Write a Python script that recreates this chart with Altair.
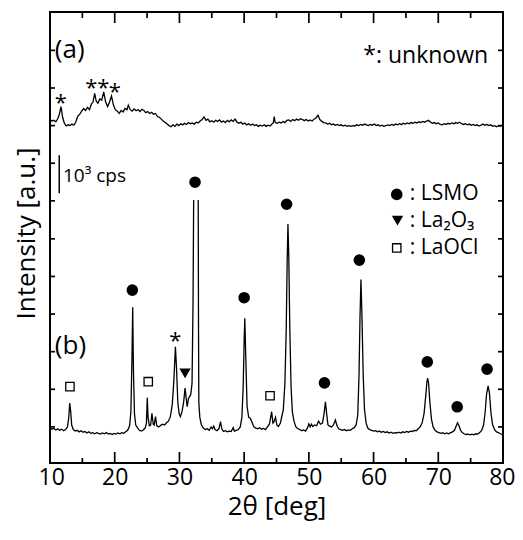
import altair as alt
import pandas as pd

# ---------------- data ----------------
# trace (a)
a_x = [10.0, 10.3, 10.6, 10.9, 11.2, 11.45, 11.7, 11.95, 12.2, 12.5, 12.8, 13.1, 13.4, 13.7, 14.0, 14.3, 14.6, 14.9,
       15.2, 15.5, 15.8, 16.1, 16.4, 16.65, 16.9, 17.15, 17.4, 17.7, 18.0, 18.3, 18.6, 18.9, 19.2, 19.5, 19.8, 20.1,
       20.4, 20.7, 21.0, 21.3, 21.6, 21.9, 22.1, 22.4, 22.7, 23.0, 23.3, 23.6, 23.9, 24.2, 24.5, 24.8, 25.1, 25.4,
       25.7, 26.0, 26.3, 26.6, 26.9, 27.2, 27.5, 27.8, 28.1, 28.4, 28.7, 29.0, 29.3, 29.6, 29.9, 30.2, 30.5, 30.8,
       31.1, 31.4, 31.7, 32.0, 32.3, 32.6, 32.9, 33.2, 33.5, 33.8, 34.1, 34.4, 34.7, 35.0, 35.3, 35.6, 35.9, 36.2,
       36.5, 36.8, 37.1, 37.4, 37.7, 38.0, 38.3, 38.6, 38.9, 39.2, 39.5, 39.8, 40.1, 40.4, 40.7, 41.0, 41.3, 41.6,
       41.9, 42.2, 42.5, 42.8, 43.1, 43.4, 43.7, 44.0, 44.3, 44.5, 44.65, 44.8, 45.1, 45.4, 45.7, 46.0, 46.3, 46.6,
       46.9, 47.2, 47.5, 47.8, 48.1, 48.4, 48.7, 49.0, 49.3, 49.6, 49.9, 50.2, 50.5, 50.8, 51.1, 51.4, 51.7, 52.0,
       52.3, 52.6, 52.9, 53.2, 53.5, 53.8, 54.1, 54.4, 54.7, 55.0, 55.3, 55.6, 55.9, 56.2, 56.5, 56.8, 57.1, 57.4,
       57.7, 58.0, 58.3, 58.6, 58.9, 59.2, 59.5, 59.8, 60.1, 60.4, 60.7, 61.0, 61.3, 61.6, 61.9, 62.2, 62.5, 62.8,
       63.1, 63.4, 63.7, 64.0, 64.3, 64.6, 64.9, 65.2, 65.5, 65.8, 66.1, 66.4, 66.7, 67.0, 67.3, 67.6, 67.9, 68.2,
       68.5, 68.8, 69.1, 69.4, 69.7, 70.0, 70.3, 70.6, 70.9, 71.2, 71.5, 71.8, 72.1, 72.4, 72.7, 73.0, 73.3, 73.6,
       73.9, 74.2, 74.5, 74.8, 75.1, 75.4, 75.7, 76.0, 76.3, 76.6, 76.9, 77.2, 77.5, 77.8, 78.1, 78.4, 78.7, 79.0,
       79.3, 79.6, 80.0]
a_y = [9.04, 9.00, 9.02, 8.98, 9.06, 9.18, 9.38, 9.10, 8.95, 8.87, 8.90, 8.88, 8.92, 8.89, 8.98, 9.13, 9.18, 9.26,
       9.33, 9.28, 9.36, 9.30, 9.45, 9.50, 9.73, 9.52, 9.47, 9.58, 9.55, 9.77, 9.50, 9.38, 9.50, 9.66, 9.42, 9.30,
       9.26, 9.20, 9.28, 9.24, 9.33, 9.30, 9.42, 9.30, 9.26, 9.32, 9.27, 9.30, 9.25, 9.31, 9.28, 9.22, 9.25, 9.20,
       9.23, 9.18, 9.20, 9.12, 9.10, 9.05, 9.00, 8.96, 8.92, 8.88, 8.85, 8.90, 8.86, 8.92, 8.88, 8.93, 8.90, 8.94,
       8.91, 8.96, 8.93, 8.95, 8.92, 8.97, 8.95, 9.00, 9.04, 9.11, 9.02, 9.05, 8.98, 9.01, 8.97, 9.02, 8.99, 9.03,
       8.97, 9.00, 8.96, 9.02, 8.98, 9.03, 8.99, 9.05, 8.97, 8.94, 8.97, 8.92, 8.95, 8.90, 8.93, 8.89, 8.92, 8.88,
       8.90, 8.86, 8.89, 8.87, 8.90, 8.86, 8.89, 8.87, 8.92, 8.95, 9.12, 8.96, 8.94, 8.97, 8.95, 8.99, 8.96, 9.02,
       9.03, 8.99, 9.04, 9.01, 9.05, 9.02, 9.06, 9.04, 9.01, 9.04, 9.00, 9.03, 9.00, 9.05, 9.08, 9.15, 9.04, 8.99,
       8.96, 8.95, 8.92, 8.94, 8.90, 8.92, 8.89, 8.91, 8.88, 8.90, 8.87, 8.89, 8.86, 8.88, 8.86, 8.88, 8.87, 8.90,
       8.88, 8.91, 8.89, 8.92, 8.90, 8.88, 8.91, 8.89, 8.92, 8.88, 8.90, 8.87, 8.89, 8.86, 8.88, 8.90, 8.88, 8.91,
       8.89, 8.92, 8.90, 8.93, 8.91, 8.94, 8.92, 8.95, 8.93, 8.96, 8.94, 8.97, 8.95, 8.98, 8.96, 8.99, 8.97, 9.00,
       9.02, 8.97, 8.94, 8.96, 8.93, 8.95, 8.91, 8.90, 8.93, 8.91, 8.94, 8.92, 8.95, 8.93, 8.96, 8.94, 8.97, 8.93,
       8.91, 8.93, 8.90, 8.92, 8.89, 8.91, 8.88, 8.90, 8.87, 8.89, 8.92, 8.89, 8.91, 8.88, 8.90, 8.86, 8.88, 8.85,
       8.88, 8.87, 8.90]

# trace (b), part below the truncated main peak and part after it
b1_x = [10.0, 10.3, 10.6, 10.9, 11.2, 11.5, 11.8, 12.1, 12.4, 12.7, 12.9, 13.05, 13.2, 13.35, 13.6, 13.9, 14.2, 14.5,
        14.8, 15.1, 15.4, 15.7, 16.0, 16.3, 16.6, 16.9, 17.2, 17.5, 17.8, 18.1, 18.4, 18.7, 19.0, 19.3, 19.6, 19.9,
        20.2, 20.5, 20.8, 21.1, 21.4, 21.7, 22.0, 22.3, 22.5, 22.65, 22.78, 22.9, 23.05, 23.25, 23.5, 23.8, 24.1,
        24.4, 24.7, 24.9, 25.03, 25.15, 25.35, 25.55, 25.75, 25.95, 26.1, 26.3, 26.5, 26.8, 27.1, 27.4, 27.7, 28.0,
        28.3, 28.6, 28.9, 29.15, 29.38, 29.55, 29.75, 29.95, 30.15, 30.4, 30.65, 30.87, 31.05, 31.2, 31.4, 31.55,
        31.75, 31.95, 32.1, 32.2]
b1_y = [0.92, 0.89, 0.91, 0.87, 0.90, 0.86, 0.89, 0.85, 0.88, 0.95, 1.20, 1.58, 1.35, 1.00, 0.88, 0.84, 0.86, 0.82,
        0.85, 0.81, 0.83, 0.79, 0.82, 0.78, 0.80, 0.77, 0.80, 0.78, 0.76, 0.79, 0.77, 0.80, 0.76, 0.78, 0.75, 0.78,
        0.76, 0.79, 0.77, 0.80, 0.78, 0.82, 0.86, 0.98, 1.35, 2.60, 4.10, 2.40, 1.30, 1.00, 0.93, 0.86, 0.84,
        0.87, 0.92, 1.05, 1.72, 1.20, 0.98, 1.00, 1.31, 1.02, 1.00, 1.22, 0.98, 0.95, 0.99, 1.02, 1.00, 1.06,
        1.10, 1.22, 1.55, 2.20, 3.06, 2.50, 1.60, 1.30, 1.22, 1.35, 1.60, 1.97, 1.70, 1.48, 1.70, 1.74,
        1.80, 2.10, 4.20, 6.92]
b2_x = [32.9, 32.95, 33.0, 33.15, 33.4, 33.7, 34.0, 34.3, 34.6, 34.9, 35.1, 35.3, 35.5, 35.8, 36.1, 36.35, 36.55,
        36.8, 37.1, 37.4, 37.7, 38.0, 38.3, 38.5, 38.8, 39.1, 39.4, 39.65, 39.85, 40.0, 40.1, 40.25, 40.45, 40.7,
        40.95, 41.2, 41.5, 41.8, 42.1, 42.4, 42.7, 43.0, 43.3, 43.6, 43.9, 44.1, 44.25, 44.45, 44.6, 44.85, 45.05,
        45.3, 45.6, 45.85, 46.05, 46.3, 46.5, 46.65, 46.77, 46.9, 47.05, 47.25, 47.45, 47.7, 48.0, 48.3, 48.6, 48.9,
        49.2, 49.5, 49.8, 50.0, 50.2, 50.4, 50.6, 50.9, 51.2, 51.5, 51.8, 52.1, 52.35, 52.56, 52.75, 52.95, 53.2,
        53.5, 53.8, 54.1, 54.35, 54.6, 54.9, 55.2, 55.5, 55.8, 56.1, 56.4, 56.7, 57.0, 57.3, 57.55, 57.75, 57.9,
        58.05, 58.2, 58.4, 58.6, 58.85, 59.1, 59.4, 59.7, 60.0, 60.3, 60.6, 60.9, 61.2, 61.5, 61.8, 62.1, 62.4,
        62.7, 63.0, 63.3, 63.6, 63.9, 64.2, 64.5, 64.8, 65.1, 65.4, 65.7, 66.0, 66.3, 66.6, 66.9, 67.2, 67.5, 67.8,
        68.05, 68.25, 68.36, 68.5, 68.7, 68.95, 69.2, 69.5, 69.8, 70.1, 70.4, 70.7, 71.0, 71.3, 71.6, 71.9, 72.2,
        72.5, 72.75, 72.97, 73.2, 73.45, 73.7, 74.0, 74.3, 74.6, 74.9, 75.2, 75.5, 75.8, 76.1, 76.4, 76.7, 77.0,
        77.25, 77.45, 77.7, 77.9, 78.15, 78.4, 78.7, 79.0, 79.3, 79.6, 80.0]
b2_y = [6.92, 3.50, 1.60, 1.20, 1.00, 0.92, 0.88, 0.90, 0.86, 0.95, 0.90, 0.97, 0.88, 0.85, 0.90, 1.09, 0.90,
        0.83, 0.85, 0.82, 0.84, 0.83, 0.93, 0.84, 0.86, 0.88, 0.95, 1.20, 2.00, 3.20, 3.81, 2.80, 1.50, 1.20,
        1.18, 1.08, 0.95, 0.92, 0.90, 0.93, 0.89, 0.91, 0.88, 0.95, 1.02, 1.20, 1.35, 1.05, 1.08, 1.20, 1.00,
        0.96, 1.05, 1.25, 1.40, 2.10, 3.50, 5.30, 6.29, 5.40, 3.60, 2.00, 1.35, 1.10, 0.95, 0.90, 0.88, 0.85,
        0.87, 0.84, 0.93, 1.03, 0.95, 1.02, 0.96, 1.00, 0.98, 1.10, 1.02, 1.05, 1.30, 1.61, 1.30, 1.00, 0.97,
        0.95, 1.00, 1.13, 0.98, 0.90, 0.88, 0.86, 0.88, 0.85, 0.87, 0.86, 0.90, 0.93, 1.00, 1.25, 2.30, 3.80,
        4.83, 3.90, 2.30, 1.40, 1.05, 0.92, 0.88, 0.86, 0.84, 0.85, 0.82, 0.84, 0.81, 0.83, 0.80, 0.82, 0.79,
        0.81, 0.78, 0.80, 0.79, 0.81, 0.79, 0.82, 0.80, 0.83, 0.81, 0.84, 0.83, 0.86, 0.85, 0.90, 0.95, 1.05, 1.30,
        1.75, 2.15, 2.23, 2.10, 1.60, 1.15, 0.95, 0.86, 0.82, 0.80, 0.78, 0.80, 0.77, 0.79, 0.77, 0.80, 0.82,
        0.86, 0.97, 1.06, 0.98, 0.86, 0.80, 0.77, 0.75, 0.76, 0.74, 0.76, 0.74, 0.77, 0.76, 0.80, 0.86, 1.00,
        1.35, 1.80, 2.03, 1.85, 1.30, 1.00, 0.88, 0.82, 0.80, 0.77, 0.74]

# phase markers
lsmo_x = [22.72, 32.41, 40.0, 46.56, 52.41, 57.8, 68.3, 72.92, 77.54]
lsmo_y = [4.55, 7.39, 4.35, 6.81, 2.11, 5.34, 2.66, 1.48, 2.47]
laocl_x = [13.08, 25.18, 44.0]
laocl_y = [2.01, 2.14, 1.77]
la2o3_x = [30.87]
la2o3_y = [2.36]
unk_text = ["*", "**", "*", "*"]
unk_x = [11.69, 17.3, 20.0, 29.38]
unk_y = [9.64, 10.03, 9.92, 3.37]

# legend entries (symbol position, text position, text)
leg_names = [": LSMO", ": La\u2082O\u2083", ": LaOCl"]
leg_sym_x = [63.58, 63.7, 63.58]
leg_y = [7.07, 6.38, 5.66]
leg_txt_x = 65.6

# tick positions
x_major = [10, 20, 30, 40, 50, 60, 70, 80]
x_minor = [15, 25, 35, 45, 55, 65, 75]
y_ticks = [0.95, 1.94, 2.93, 3.92, 4.91, 5.90, 6.90, 7.89, 8.88, 9.87, 10.86]

# ---------------- chart ----------------
W, H = 453, 451
FONT = "Open Sans"

trace_df = pd.DataFrame(
    {"x": a_x + b1_x + b2_x,
     "y": a_y + b1_y + b2_y,
     "seg": ["a"] * len(a_x) + ["b1"] * len(b1_x) + ["b2"] * len(b2_x)}
)

xs = alt.Scale(domain=[10, 80], nice=False, zero=False)
ys = alt.Scale(domain=[0, 11.87], nice=False, zero=False)

x_axis = alt.Axis(values=x_major, format="d", ticks=False, tickSize=0, domain=False, grid=False,
                  labelFontSize=23, labelFont=FONT, labelColor="black", labelPadding=3,
                  labelFlush=True, labelFlushOffset=12, labelOverlap=False,
                  title="2\u03b8 [deg]", titleFont=FONT, titleFontSize=26, titleFontWeight="normal",
                  titleColor="black", titlePadding=4)
y_axis = alt.Axis(labels=False, ticks=False, tickSize=0, domain=False, grid=False,
                  title="Intensity [a.u.]", titleFont=FONT, titleFontSize=26, titleFontWeight="normal",
                  titleColor="black", titleAngle=270, titleX=-16, titleY=221,
                  titleAlign="center", titleBaseline="alphabetic")

X = alt.X("x:Q", scale=xs, axis=x_axis)
Y = alt.Y("y:Q", scale=ys, axis=y_axis)

lines = alt.Chart(trace_df).mark_line(color="black", strokeWidth=1.3).encode(
    x=X, y=Y, detail="seg:N", order="x:Q")

circles = alt.Chart(pd.DataFrame({"x": lsmo_x, "y": lsmo_y})).mark_point(
    shape="circle", filled=True, color="black", size=135, opacity=1).encode(x=X, y=Y)
squares = alt.Chart(pd.DataFrame({"x": laocl_x, "y": laocl_y})).mark_point(
    shape="square", filled=False, color="black", size=70, strokeWidth=1.3, opacity=1).encode(x=X, y=Y)
tris = alt.Chart(pd.DataFrame({"x": la2o3_x, "y": la2o3_y})).mark_point(
    shape="triangle-down", filled=True, color="black", size=130, opacity=1).encode(x=X, y=Y)
stars = alt.Chart(pd.DataFrame({"x": unk_x, "y": unk_y, "t": unk_text})).mark_text(
    font=FONT, fontSize=22, color="black", baseline="middle", align="center", dy=6).encode(
    x=X, y=Y, text="t:N")

leg_sym_df = pd.DataFrame({"x": leg_sym_x, "y": leg_y})
leg_c = alt.Chart(leg_sym_df.iloc[[0]]).mark_point(
    shape="circle", filled=True, color="black", size=135, opacity=1).encode(x=X, y=Y)
leg_t = alt.Chart(leg_sym_df.iloc[[1]]).mark_point(
    shape="triangle-down", filled=True, color="black", size=130, opacity=1).encode(x=X, y=Y)
leg_s = alt.Chart(leg_sym_df.iloc[[2]]).mark_point(
    shape="square", filled=False, color="black", size=70, strokeWidth=1.3, opacity=1).encode(x=X, y=Y)
leg_text = alt.Chart(pd.DataFrame({"x": [leg_txt_x] * 3, "y": leg_y, "t": leg_names})).mark_text(
    font=FONT, fontSize=21, color="black", align="left", baseline="middle").encode(x=X, y=Y, text="t:N")

labels_left = alt.Chart(pd.DataFrame({"x": [10.75, 10.75], "y": [10.87, 3.07], "t": ["(a)", "(b)"]})).mark_text(
    font=FONT, fontSize=26, color="black", align="left", baseline="middle").encode(x=X, y=Y, text="t:N")
unk_label = alt.Chart(pd.DataFrame({"x": [77.7], "y": [10.54], "t": ["*: unknown"]})).mark_text(
    font=FONT, fontSize=23, color="black", align="right", baseline="alphabetic").encode(x=X, y=Y, text="t:N")
cps_label = alt.Chart(pd.DataFrame({"x": [12.0], "y": [7.39], "t": ["10\u00b3 cps"]})).mark_text(
    font=FONT, fontSize=19, color="black", align="left", baseline="alphabetic").encode(x=X, y=Y, text="t:N")
scale_bar = alt.Chart(pd.DataFrame({"x": [11.43], "y": [7.1], "y2": [8.1]})).mark_rule(
    color="black", strokeWidth=1.5).encode(x=X, y=Y, y2="y2:Q")

tick_w = 1.7
maj_df = pd.DataFrame({"x": x_major[1:-1]})
min_df = pd.DataFrame({"x": x_minor})
yt_df = pd.DataFrame({"y": y_ticks})
t_bot_maj = alt.Chart(maj_df).mark_rule(color="black", strokeWidth=tick_w).encode(
    x=X, y=alt.value(H), y2=alt.value(H - 11))
t_bot_min = alt.Chart(min_df).mark_rule(color="black", strokeWidth=tick_w).encode(
    x=X, y=alt.value(H), y2=alt.value(H - 5))
t_top_maj = alt.Chart(maj_df).mark_rule(color="black", strokeWidth=tick_w).encode(
    x=X, y=alt.value(0), y2=alt.value(11))
t_top_min = alt.Chart(min_df).mark_rule(color="black", strokeWidth=tick_w).encode(
    x=X, y=alt.value(0), y2=alt.value(6))
t_left = alt.Chart(yt_df).mark_rule(color="black", strokeWidth=tick_w).encode(
    y=Y, x=alt.value(0), x2=alt.value(5))
t_right = alt.Chart(yt_df).mark_rule(color="black", strokeWidth=tick_w).encode(
    y=Y, x=alt.value(W - 5), x2=alt.value(W))

chart = alt.layer(
    lines, circles, squares, tris, stars, leg_c, leg_t, leg_s, leg_text,
    labels_left, unk_label, cps_label, scale_bar,
    t_bot_maj, t_bot_min, t_top_maj, t_top_min, t_left, t_right,
).properties(
    width=W, height=H,
    padding={"left": 42, "top": 4, "right": 12, "bottom": 69},
    autosize=alt.AutoSizeParams(type="none"),
    background="white",
).configure_view(stroke="black", strokeWidth=2)

chart.save("out.html", embed_options={"renderer": "svg", "actions": False})
